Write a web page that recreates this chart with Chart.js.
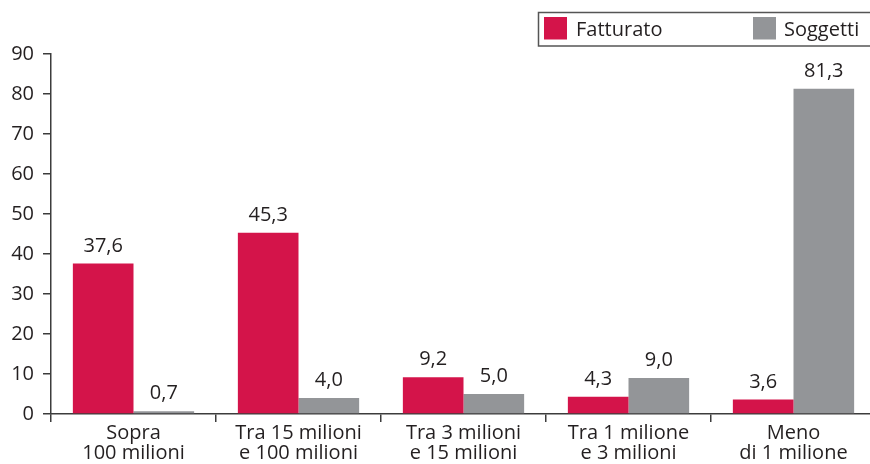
<!DOCTYPE html>
<html>
<head>
<meta charset="utf-8">
<script src="https://cdn.jsdelivr.net/npm/chart.js@4.4.1/dist/chart.umd.min.js"></script>
<style>
  html, body { margin: 0; padding: 0; background: #ffffff; overflow: hidden; }
  #wrap { width: 880px; height: 464px; }
</style>
</head>
<body>
<div id="wrap"><canvas id="c" width="880" height="464"></canvas></div>
<script>
// Fasce di fatturato (etichette su due righe)
const categories = [
  ["Sopra", "100 milioni"],
  ["Tra 15 milioni", "e 100 milioni"],
  ["Tra 3 milioni", "e 15 milioni"],
  ["Tra 1 milione", "e 3 milioni"],
  ["Meno", "di 1 milione"]
];
const fatturato = [37.6, 45.3, 9.2, 4.3, 3.6];
const soggetti  = [0.7, 4.0, 5.0, 9.0, 81.3];
const yTicks = [0, 10, 20, 30, 40, 50, 60, 70, 80, 90];

const RED = "#d4144a";
const GREY = "#939598";
const INK = "#231f20";
const AXIS = "#3c3c3c";
const FONT = "'Open Sans', sans-serif";
const FSIZE = 20;

const fmt = v => v.toFixed(1).replace(".", ",");

// Valori sopra le barre
const valueLabels = {
  id: "valueLabels",
  afterDatasetsDraw(chart) {
    const ctx = chart.ctx;
    ctx.save();
    ctx.font = FSIZE + "px " + FONT;
    ctx.fillStyle = INK;
    ctx.textAlign = "center";
    ctx.textBaseline = "alphabetic";
    chart.data.datasets.forEach((ds, i) => {
      chart.getDatasetMeta(i).data.forEach((bar, j) => {
        ctx.fillText(fmt(ds.data[j]), bar.x, bar.y - 12);
      });
    });
    ctx.restore();
  }
};

// Legenda in riquadro, in alto a destra
const boxedLegend = {
  id: "boxedLegend",
  afterDraw(chart) {
    const ctx = chart.ctx;
    ctx.save();
    ctx.strokeStyle = "#555555";
    ctx.lineWidth = 1.5;
    ctx.strokeRect(538.5, 12.5, 360, 33.5);
    const items = [
      { x: 544, tx: 576 },
      { x: 753, tx: 784 }
    ];
    ctx.font = FSIZE + "px " + FONT;
    ctx.textBaseline = "alphabetic";
    ctx.textAlign = "left";
    chart.data.datasets.forEach((ds, i) => {
      const it = items[i];
      ctx.fillStyle = ds.backgroundColor;
      ctx.fillRect(it.x, 17, 23, 22.5);
      ctx.fillStyle = INK;
      ctx.fillText(ds.label, it.tx, 36);
    });
    ctx.restore();
  }
};

new Chart(document.getElementById("c"), {
  type: "bar",
  data: {
    labels: categories,
    datasets: [
      { label: "Fatturato", data: fatturato, backgroundColor: RED,
        categoryPercentage: 0.735, barPercentage: 1.0 },
      { label: "Soggetti", data: soggetti, backgroundColor: GREY,
        categoryPercentage: 0.735, barPercentage: 1.0 }
    ]
  },
  options: {
    responsive: false,
    animation: false,
    layout: { padding: { top: 54, right: 4, bottom: 0, left: 0 } },
    plugins: { legend: { display: false }, tooltip: { enabled: false } },
    scales: {
      x: {
        offset: true,
        grid: { offset: true, drawOnChartArea: false, drawTicks: true,
                tickLength: 8, color: AXIS, lineWidth: 1.5 },
        border: { display: true, color: AXIS, width: 1.5 },
        ticks: { color: INK, font: { family: FONT, size: FSIZE, lineHeight: 1.0 },
                 padding: 1, maxRotation: 0, autoSkip: false },
        afterFit(scale) { scale.height = 50; }
      },
      y: {
        min: 0, max: 90,
        afterBuildTicks(scale) { scale.ticks = yTicks.map(v => ({ value: v })); },
        grid: { drawOnChartArea: false, drawTicks: true, tickLength: 8,
                color: AXIS, lineWidth: 1.5 },
        border: { display: true, color: AXIS, width: 1.5 },
        ticks: { color: INK, font: { family: FONT, size: FSIZE }, padding: 9 },
        afterFit(scale) { scale.width = 51; }
      }
    }
  },
  plugins: [valueLabels, boxedLegend]
});
</script>
</body>
</html>
